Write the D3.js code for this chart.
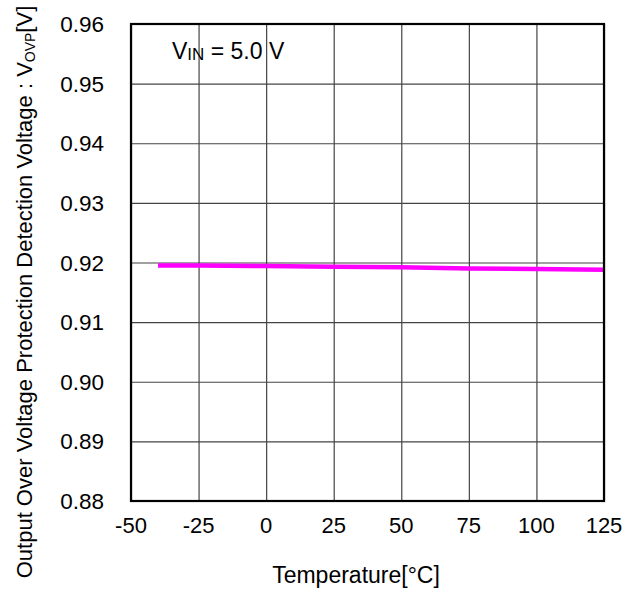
<!DOCTYPE html>
<html><head><meta charset="utf-8">
<script src="https://cdn.jsdelivr.net/npm/d3@7"></script>
<style>body{margin:0;background:#fff}svg{display:block}text{font-family:"Liberation Sans",Arial,sans-serif;fill:#000}</style>
</head><body><svg id="c" width="640" height="591"></svg>
<script>
const temps = [-40, -25, 0, 25, 50, 75, 100, 125];
const vovp = [0.9195, 0.9195, 0.9194, 0.9193, 0.9192, 0.9190, 0.9189, 0.9188];
const xTicks = [-50, -25, 0, 25, 50, 75, 100, 125];
const yTicks = [0.88, 0.89, 0.90, 0.91, 0.92, 0.93, 0.94, 0.95, 0.96];

const svg = d3.select("#c");
const L = 131, R = 604, T = 24, B = 501;
const x = d3.scaleLinear().domain([-50, 125]).range([L, R]);
const y = d3.scaleLinear().domain([0.88, 0.96]).range([B, T]);

// grid
svg.append("g").call(d3.axisBottom(x).tickValues(xTicks).tickSize(-(B - T)).tickFormat(""))
  .attr("transform", `translate(0,${B})`)
  .call(g => g.select(".domain").remove())
  .call(g => g.selectAll("line").attr("stroke", "#444").attr("stroke-width", 1.2));
svg.append("g").call(d3.axisLeft(y).tickValues(yTicks).tickSize(-(R - L)).tickFormat(""))
  .attr("transform", `translate(${L},0)`)
  .call(g => g.select(".domain").remove())
  .call(g => g.selectAll("line").attr("stroke", "#444").attr("stroke-width", 1.2));

// tick labels
svg.append("g").selectAll("text").data(xTicks).join("text")
  .attr("x", d => x(d)).attr("y", 533).attr("text-anchor", "middle")
  .attr("font-size", 22).text(d => d);
svg.append("g").selectAll("text").data(yTicks).join("text")
  .attr("x", 104).attr("y", d => y(d) + 8).attr("text-anchor", "end")
  .attr("font-size", 22.5).text(d => d.toFixed(2));

// line
svg.append("path").datum(temps.map((t, i) => [t, vovp[i]]))
  .attr("fill", "none").attr("stroke", "#ff00ff").attr("stroke-width", 4.5)
  .attr("d", d3.line().x(d => x(d[0])).y(d => y(d[1])));

// border
svg.append("rect").attr("x", L).attr("y", T).attr("width", R - L).attr("height", B - T)
  .attr("fill", "none").attr("stroke", "#000").attr("stroke-width", 2.2);

// annotation
const ann = svg.append("text").attr("x", 172).attr("y", 59).attr("font-size", 23);
ann.append("tspan").text("V");
ann.append("tspan").attr("font-size", 17).attr("dy", 1).text("IN");
ann.append("tspan").attr("dy", -1).text(" = 5.0 V");

// axis titles
svg.append("text").attr("x", 356).attr("y", 583).attr("text-anchor", "middle")
  .attr("font-size", 23).text("Temperature[°C]");
const yt = svg.append("text").attr("transform", "translate(32,292) rotate(-90)")
  .attr("text-anchor", "middle").attr("font-size", 22);
yt.append("tspan").text("Output Over Voltage Protection Detection Voltage : V");
yt.append("tspan").attr("font-size", 14).attr("dy", 3).text("OVP");
yt.append("tspan").attr("dy", -3).text("[V]");
</script></body></html>
